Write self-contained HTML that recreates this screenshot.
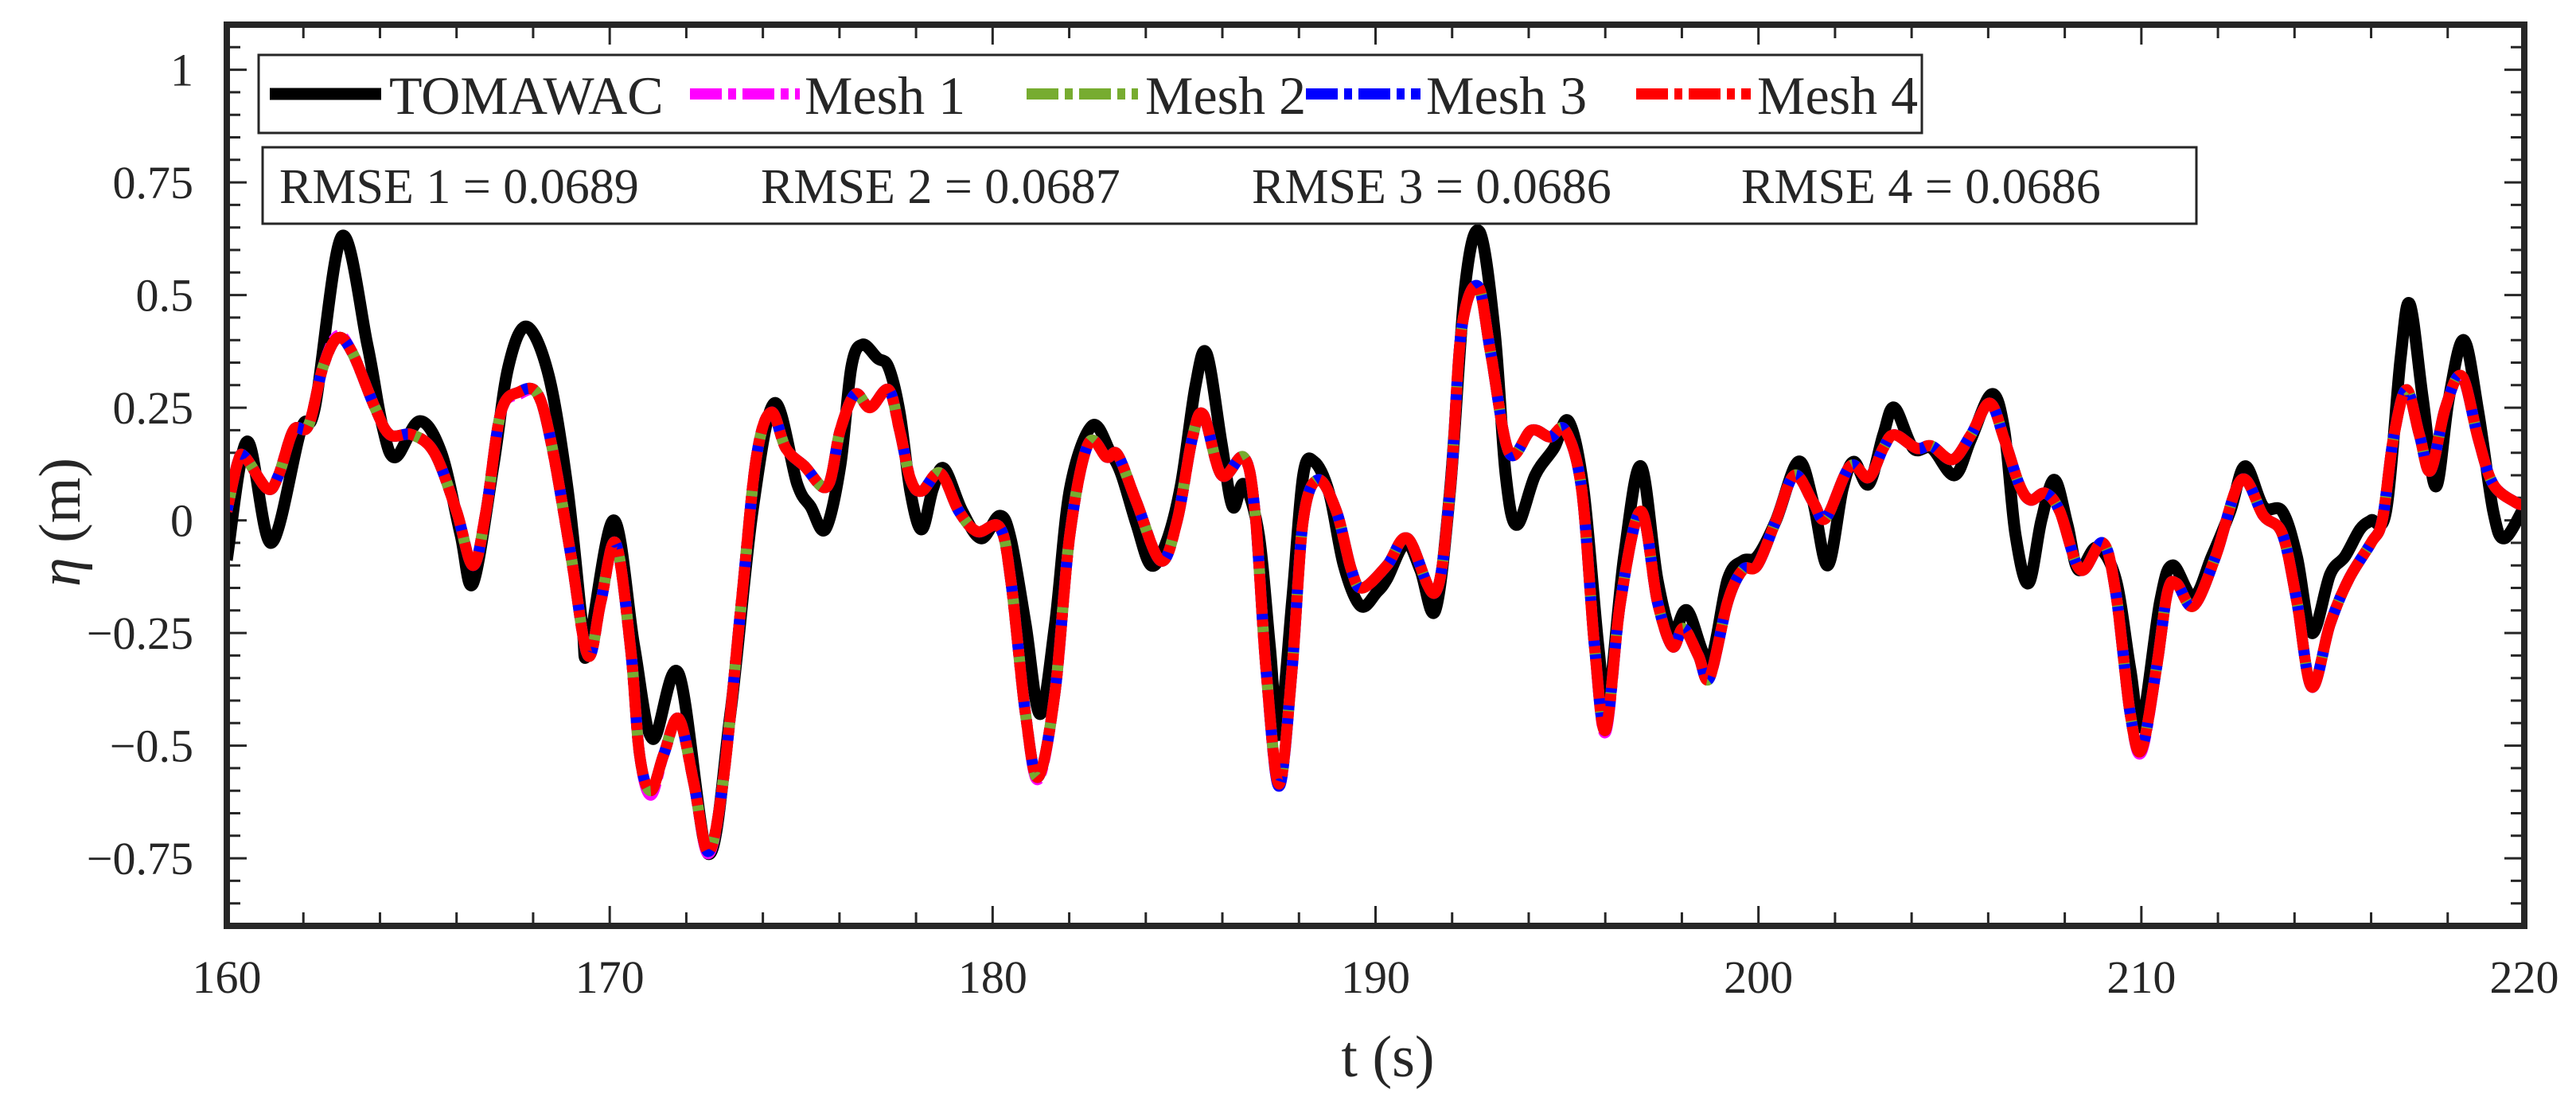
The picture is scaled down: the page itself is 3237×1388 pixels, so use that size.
<!DOCTYPE html>
<html><head><meta charset="utf-8"><style>
html,body{margin:0;padding:0;background:#fff;}
svg text{font-family:"Liberation Serif","DejaVu Serif",serif;fill:#262626;}
</style></head><body>
<svg id="chart" width="3237" height="1383" viewBox="0 0 3237 1383" xmlns="http://www.w3.org/2000/svg">
<rect x="0" y="0" width="3237" height="1383" fill="#fff"/>
<g id="grid-ticks"></g>
<g id="series"></g>
<g id="labels"></g>
<rect x="285" y="31" width="2887" height="1132" fill="none" stroke="#262626" stroke-width="8"/>
<g>
<rect x="325" y="69" width="2090" height="98" fill="#fff" stroke="#262626" stroke-width="3"/>
<g id="legend-entries"></g>
</g>
<g>
<rect x="330" y="185" width="2430" height="96" fill="#fff" stroke="#262626" stroke-width="3"/>
<text x="351" y="255" font-size="62">RMSE 1 = 0.0689</text>
<text x="956" y="255" font-size="62">RMSE 2 = 0.0687</text>
<text x="1573" y="255" font-size="62">RMSE 3 = 0.0686</text>
<text x="2188" y="255" font-size="62">RMSE 4 = 0.0686</text>
</g>
<text x="1744" y="1352" font-size="74" text-anchor="middle">t (s)</text>
<text transform="translate(100,656) rotate(-90)" font-size="74" text-anchor="middle"><tspan font-style="italic">η</tspan> (m)</text>
</svg>
<script>
const xTicks=[160,170,180,190,200,210,220];
const yTicks=[-0.75,-0.5,-0.25,0,0.25,0.5,0.75,1];
const yTickLabels=["−0.75","−0.5","−0.25","0","0.25","0.5","0.75","1"];
const tomT=[160,160.53,161.16,161.93,162.3,163.0,163.67,164.06,164.4,165.03,165.6,166.1,166.43,166.96,167.35,167.83,168.41,168.9,169.28,169.43,170.1,170.64,171.12,171.8,172.57,173.15,173.73,174.3,174.9,175.25,175.63,176.02,176.31,176.6,176.99,177.28,177.57,177.86,178.15,178.44,178.73,179.21,179.7,180.18,180.47,180.86,181.24,181.63,182.02,182.6,183.08,183.37,183.76,184.14,184.53,184.92,185.3,185.59,185.98,186.27,186.56,186.95,187.24,187.48,187.82,188.11,188.4,188.79,189.17,189.61,190.03,190.3,190.79,191.17,191.56,191.95,192.34,192.72,193.11,193.4,193.69,194.17,194.66,195.04,195.43,195.82,196.06,196.49,196.93,197.36,197.75,198.14,198.72,199.2,199.59,199.97,200.46,201.04,201.43,201.81,202.2,202.49,202.88,203.26,203.55,204.04,204.52,205.12,205.55,206.09,206.42,206.71,207.05,207.39,207.73,208.07,208.36,208.84,209.33,209.71,210.0,210.49,210.82,211.36,211.84,212.32,212.71,213.19,213.68,214.06,214.45,214.93,215.32,215.71,216.0,216.39,216.77,217.01,217.35,217.69,218.03,218.42,218.8,219.19,219.48,220];
const tomV=[-0.088,0.175,-0.05,0.2,0.25,0.63,0.39,0.21,0.14,0.22,0.15,-0.03,-0.14,0.12,0.34,0.43,0.32,0.07,-0.23,-0.29,0.0,-0.28,-0.485,-0.34,-0.74,-0.43,0.02,0.26,0.08,0.03,-0.02,0.12,0.34,0.39,0.36,0.34,0.24,0.06,-0.02,0.07,0.115,0.02,-0.04,0.01,-0.04,-0.23,-0.43,-0.23,0.07,0.21,0.15,0.1,-0.01,-0.1,-0.05,0.08,0.3,0.37,0.17,0.03,0.08,-0.03,-0.28,-0.475,-0.18,0.1,0.13,0.06,-0.1,-0.19,-0.16,-0.13,-0.05,-0.11,-0.2,0.07,0.52,0.64,0.42,0.1,-0.01,0.1,0.16,0.22,0.07,-0.28,-0.41,-0.08,0.12,-0.13,-0.25,-0.2,-0.31,-0.13,-0.09,-0.08,0.0,0.13,0.04,-0.1,0.07,0.13,0.08,0.19,0.25,0.16,0.16,0.1,0.18,0.28,0.2,-0.03,-0.14,0.0,0.09,-0.01,-0.11,-0.06,-0.13,-0.33,-0.455,-0.18,-0.1,-0.17,-0.08,0.02,0.12,0.03,0.02,-0.08,-0.25,-0.12,-0.08,-0.02,0.0,0.02,0.36,0.48,0.27,0.075,0.27,0.4,0.24,0.02,-0.04,0.03];
const meshT=[160,160.29,160.48,161.06,161.35,161.74,162.13,162.51,162.9,163.29,163.87,164.26,164.84,165.42,166.0,166.43,166.77,167.16,167.64,168.12,168.5,168.99,169.43,169.77,170.15,170.54,170.78,171.07,171.41,171.8,172.19,172.57,172.96,173.44,173.83,174.22,174.6,175.09,175.68,176.02,176.41,176.8,177.28,177.57,177.86,178.15,178.63,179.12,179.6,180.18,180.47,180.86,181.19,181.63,182.02,182.5,182.98,183.27,183.76,184.39,184.82,185.21,185.5,185.98,186.56,186.85,187.14,187.48,187.82,188.11,188.5,188.98,189.37,189.66,190.3,190.84,191.56,191.95,192.24,192.67,193.01,193.49,194.07,194.56,194.95,195.38,195.72,196.01,196.4,196.93,197.36,197.75,198.04,198.43,198.72,199.2,199.59,199.97,200.46,200.94,201.43,201.76,202.39,202.88,203.26,203.55,204.13,204.52,205.07,205.55,206.04,206.42,206.81,207.1,207.49,207.87,208.41,208.99,209.33,209.71,210.0,210.39,210.68,210.92,211.36,211.94,212.61,213.19,213.68,214.06,214.45,214.93,215.42,216.0,216.29,216.58,216.92,217.26,217.55,217.94,218.37,218.8,219.19,219.77,220];
const mesh1=[0.02,0.13,0.14,0.07,0.1,0.2,0.21,0.34,0.41,0.37,0.25,0.19,0.19,0.15,0.02,-0.1,0.02,0.24,0.28,0.28,0.16,-0.08,-0.3,-0.18,-0.05,-0.28,-0.52,-0.61,-0.52,-0.44,-0.58,-0.74,-0.58,-0.18,0.14,0.24,0.16,0.12,0.075,0.2,0.28,0.25,0.29,0.2,0.09,0.065,0.105,0.02,-0.025,-0.015,-0.13,-0.43,-0.575,-0.38,-0.03,0.17,0.14,0.145,0.04,-0.09,0.0,0.18,0.235,0.1,0.14,0.02,-0.33,-0.59,-0.33,0.0,0.09,0.02,-0.11,-0.15,-0.1,-0.04,-0.16,0.07,0.42,0.52,0.37,0.15,0.2,0.185,0.2,0.07,-0.28,-0.47,-0.18,0.02,-0.18,-0.28,-0.24,-0.3,-0.35,-0.18,-0.11,-0.1,0.0,0.1,0.04,0.005,0.12,0.095,0.16,0.19,0.16,0.165,0.135,0.19,0.26,0.18,0.08,0.045,0.06,0.02,-0.11,-0.05,-0.16,-0.43,-0.515,-0.33,-0.16,-0.14,-0.19,-0.08,0.09,0.01,-0.03,-0.18,-0.37,-0.23,-0.13,-0.05,0.0,0.18,0.29,0.19,0.11,0.25,0.32,0.18,0.08,0.04,0.035];
const mesh2=[0.02,0.13,0.14,0.07,0.1,0.2,0.21,0.34,0.405,0.37,0.25,0.19,0.19,0.15,0.02,-0.1,0.02,0.24,0.285,0.28,0.16,-0.08,-0.3,-0.18,-0.05,-0.28,-0.52,-0.6,-0.52,-0.44,-0.58,-0.735,-0.58,-0.18,0.14,0.24,0.16,0.12,0.075,0.2,0.28,0.25,0.29,0.2,0.09,0.065,0.105,0.02,-0.025,-0.015,-0.13,-0.43,-0.57,-0.38,-0.03,0.17,0.14,0.145,0.04,-0.09,0.0,0.18,0.235,0.1,0.14,0.02,-0.33,-0.585,-0.33,0.0,0.09,0.02,-0.11,-0.15,-0.1,-0.04,-0.16,0.07,0.42,0.52,0.37,0.15,0.2,0.185,0.2,0.07,-0.28,-0.465,-0.18,0.02,-0.18,-0.28,-0.24,-0.3,-0.35,-0.18,-0.11,-0.1,0.0,0.1,0.04,0.005,0.12,0.095,0.16,0.19,0.16,0.165,0.135,0.19,0.26,0.18,0.08,0.045,0.06,0.02,-0.11,-0.05,-0.16,-0.43,-0.51,-0.33,-0.16,-0.14,-0.19,-0.08,0.09,0.01,-0.03,-0.18,-0.37,-0.23,-0.13,-0.05,0.0,0.18,0.29,0.19,0.11,0.25,0.32,0.18,0.08,0.04,0.035];
const mesh3=[0.02,0.13,0.14,0.07,0.1,0.2,0.21,0.34,0.405,0.37,0.25,0.19,0.19,0.15,0.02,-0.1,0.02,0.24,0.285,0.28,0.16,-0.08,-0.3,-0.18,-0.05,-0.28,-0.52,-0.6,-0.52,-0.44,-0.58,-0.735,-0.58,-0.18,0.14,0.24,0.16,0.12,0.075,0.2,0.28,0.25,0.29,0.2,0.09,0.065,0.105,0.02,-0.025,-0.015,-0.13,-0.43,-0.57,-0.38,-0.03,0.17,0.14,0.145,0.04,-0.09,0.0,0.18,0.235,0.1,0.14,0.02,-0.33,-0.59,-0.33,0.0,0.09,0.02,-0.11,-0.15,-0.1,-0.04,-0.16,0.07,0.42,0.52,0.37,0.15,0.2,0.185,0.2,0.07,-0.28,-0.465,-0.18,0.02,-0.18,-0.28,-0.24,-0.3,-0.35,-0.18,-0.11,-0.1,0.0,0.1,0.04,0.005,0.12,0.095,0.16,0.19,0.16,0.165,0.135,0.19,0.26,0.18,0.08,0.045,0.06,0.02,-0.11,-0.05,-0.16,-0.43,-0.51,-0.33,-0.16,-0.14,-0.19,-0.08,0.09,0.01,-0.03,-0.18,-0.37,-0.23,-0.13,-0.05,0.0,0.18,0.29,0.19,0.11,0.25,0.32,0.18,0.08,0.04,0.035];
const mesh4=[0.02,0.13,0.14,0.07,0.1,0.2,0.21,0.34,0.405,0.37,0.25,0.19,0.19,0.15,0.02,-0.1,0.02,0.24,0.285,0.28,0.16,-0.08,-0.3,-0.18,-0.05,-0.28,-0.52,-0.6,-0.52,-0.44,-0.58,-0.735,-0.58,-0.18,0.14,0.24,0.16,0.12,0.075,0.2,0.28,0.25,0.29,0.2,0.09,0.065,0.105,0.02,-0.025,-0.015,-0.13,-0.43,-0.57,-0.38,-0.03,0.17,0.14,0.145,0.04,-0.09,0.0,0.18,0.235,0.1,0.14,0.02,-0.33,-0.585,-0.33,0.0,0.09,0.02,-0.11,-0.15,-0.1,-0.04,-0.16,0.07,0.42,0.52,0.37,0.15,0.2,0.185,0.2,0.07,-0.28,-0.465,-0.18,0.02,-0.18,-0.28,-0.24,-0.3,-0.35,-0.18,-0.11,-0.1,0.0,0.1,0.04,0.005,0.12,0.095,0.16,0.19,0.16,0.165,0.135,0.19,0.26,0.18,0.08,0.045,0.06,0.02,-0.11,-0.05,-0.16,-0.43,-0.51,-0.33,-0.16,-0.14,-0.19,-0.08,0.09,0.01,-0.03,-0.18,-0.37,-0.23,-0.13,-0.05,0.0,0.18,0.29,0.19,0.11,0.25,0.32,0.18,0.08,0.04,0.035];
const seriesNames=["TOMAWAC","Mesh 1","Mesh 2","Mesh 3","Mesh 4"];

const NS="http://www.w3.org/2000/svg";
const X0=285,X1=3172,Y0=31,Y1=1163,TMIN=160,TMAX=220,VMIN=-0.9,VMAX=1.1;
function sx(t){return X0+(t-TMIN)/(TMAX-TMIN)*(X1-X0);}
function sy(v){return Y1-(v-VMIN)/(VMAX-VMIN)*(Y1-Y0);}
function mk(tag,attrs,parent){const e=document.createElementNS(NS,tag);for(const k in attrs)e.setAttribute(k,attrs[k]);parent.appendChild(e);return e;}
const ticksG=document.getElementById('grid-ticks');
const labG=document.getElementById('labels');
for(let t=TMIN;t<=TMAX+1e-9;t+=2){
  const major=Math.abs((t-TMIN)%10)<1e-9;const L=major?25:17;const x=sx(t);
  const a=mk('line',{x1:x,x2:x,y1:Y1,y2:Y1-L,stroke:'#262626','stroke-width':3},ticksG);
  
  
  const b=mk('line',{x1:x,x2:x,y1:Y0,y2:Y0+L,stroke:'#262626','stroke-width':3},ticksG);
  
  
}
for(let i=-18;i<=22;i++){
  const v=i*0.05;const major=(i%5===0);const L=major?25:17;const y=sy(v);
  if(y<Y0+3||y>Y1-3)continue;
  const a=mk('line',{x1:X0,x2:X0+L,y1:y,y2:y,stroke:'#262626','stroke-width':3},ticksG);
  
  
  const b=mk('line',{x1:X1,x2:X1-L,y1:y,y2:y,stroke:'#262626','stroke-width':3},ticksG);
  
  
}
xTicks.forEach(t=>{
  const e=mk('text',{x:sx(t),y:1247,'font-size':58,'text-anchor':'middle'},labG);e.textContent=String(t);
  
  
});
yTicks.forEach((v,i)=>{
  const e=mk('text',{x:243,y:sy(v)+20,'font-size':58,'text-anchor':'end'},labG);e.textContent=yTickLabels[i];
  
  
});
const sG=document.getElementById('series');
function pathD(ts,vs){
  const p=ts.map((t,i)=>[sx(t),sy(vs[i])]);
  let d='M'+p[0][0].toFixed(1)+','+p[0][1].toFixed(1);
  for(let i=0;i<p.length-1;i++){
    const p0=p[i-1]||p[i],p1=p[i],p2=p[i+1],p3=p[i+2]||p2;
    const c1x=p1[0]+(p2[0]-p0[0])/6,c1y=p1[1]+(p2[1]-p0[1])/6;
    const c2x=p2[0]-(p3[0]-p1[0])/6,c2y=p2[1]-(p3[1]-p1[1])/6;
    d+=' C'+c1x.toFixed(1)+','+c1y.toFixed(1)+' '+c2x.toFixed(1)+','+c2y.toFixed(1)+' '+p2[0].toFixed(1)+','+p2[1].toFixed(1);
  }
  return d;
}
const clip=mk('clipPath',{id:'pc'},mk('defs',{},sG));
mk('rect',{x:X0,y:Y0,width:X1-X0,height:Y1-Y0},clip);
sG.setAttribute('clip-path','url(#pc)');
const tomPath=mk('path',{d:pathD(tomT,tomV),fill:'none',stroke:'#000','stroke-width':15,'stroke-linejoin':'round'},sG);


const meshes=[[mesh1,'#ff00ff',0,'mesh-1-line'],[mesh2,'#77ac30',16,'mesh-2-line'],[mesh3,'#0000ff',32,'mesh-3-line'],[mesh4,'#ff0000',48,'mesh-4-line']];
meshes.forEach(m=>{
  const e=mk('path',{d:pathD(meshT,m[0]),fill:'none',stroke:m[1],'stroke-width':14,'stroke-dasharray':'50 7 9 7','stroke-dashoffset':m[2]},sG);
  
  
});
const lg=document.getElementById('legend-entries');
const legendItems=[[339,479,489,'#000',null],[867,1005,1011,'#ff00ff','40 8 10 8'],[1290,1430,1439,'#77ac30','40 8 10 8'],[1641,1785,1792,'#0000ff','40 8 10 8'],[2056,2200,2208,'#ff0000','40 8 10 8']];
legendItems.forEach((it,i)=>{
  const g=mk('g',{},lg);
  
  
  const a={x1:it[0],x2:it[1],y1:118,y2:118,stroke:it[3],'stroke-width':i===0?15:14};
  if(it[4])a['stroke-dasharray']=it[4];
  mk('line',a,g);
  const t=mk('text',{x:it[2],y:143,'font-size':68},g);t.textContent=seriesNames[i];
});
</script>
</body></html>
